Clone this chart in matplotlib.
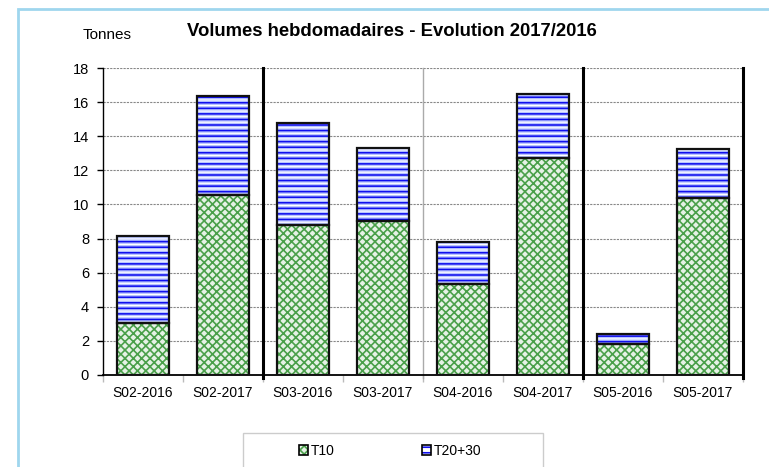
import matplotlib
matplotlib.use("Agg")
import matplotlib.pyplot as plt
from matplotlib.patches import Rectangle, Patch
import numpy as np

plt.rcParams['font.family'] = ['Liberation Sans', 'DejaVu Sans']
plt.rcParams['hatch.linewidth'] = 1.2

categories = ["S02-2016", "S02-2017", "S03-2016", "S03-2017",
              "S04-2016", "S04-2017", "S05-2016", "S05-2017"]
t10 = [3.03, 10.53, 8.8, 9.03, 5.33, 12.7, 1.82, 10.37]
totals = [8.13, 16.33, 14.8, 13.3, 7.82, 16.47, 2.41, 13.24]
t2030 = [tot - a for tot, a in zip(totals, t10)]
yticks = [0, 2, 4, 6, 8, 10, 12, 14, 16, 18]
thick_separators = [1.5, 5.5, 7.5]
thin_separators = [3.5]

W, H = 769, 467
fig = plt.figure(figsize=(W / 100, H / 100), dpi=100)

# light blue frame
fig.patches.append(Rectangle((18 / W, -0.05), 1.2, 1 - 9 / H + 0.05, transform=fig.transFigure,
                             fill=False, edgecolor='#9fd6ee', linewidth=2, zorder=0))

ax = fig.add_axes([103 / W, 1 - 375 / H, 640 / W, 307 / H])
x = np.arange(len(categories))
bw = 0.66

green = '#4aa04a'
# T10 hatched
ax.bar(x, t10, bw, color='#e6f2e6', edgecolor=green, hatch='xxxx', linewidth=0, zorder=3)
ax.bar(x, t10, bw, color='none', edgecolor='#111111', linewidth=1.6, zorder=4)
# T20+30
ax.bar(x, t2030, bw, bottom=t10, color='white', edgecolor='#b8c4ff', hatch='------', linewidth=0, zorder=3)
ax.bar(x, t2030, bw, bottom=t10, color='none', edgecolor='#1010ee', hatch='---', linewidth=0, zorder=3)
ax.bar(x, t2030, bw, bottom=t10, color='none', edgecolor='#111111', linewidth=1.6, zorder=4)

ax.set_xlim(-0.5, 7.5)
ax.set_ylim(0, 18)
ax.set_yticks(yticks)
ax.set_yticklabels([str(v) for v in yticks], fontsize=10.5)
ax.set_xticks(x)
ax.set_xticklabels(categories, fontsize=10)
ax.set_xticks(np.arange(-0.5, 8.0, 1.0), minor=True)
ax.tick_params(axis='x', which='major', length=0, pad=8)
ax.tick_params(axis='x', which='minor', length=5, color='#bbbbbb', width=1)
ax.tick_params(axis='y', length=4, width=1, color='black', pad=6)

for y in yticks[1:]:
    ax.axhline(y, color='#888888', linewidth=0.8, linestyle=(0, (2, 1)), zorder=1)

for s in ['top', 'right']:
    ax.spines[s].set_visible(False)
ax.spines['left'].set_linewidth(1)
ax.spines['bottom'].set_linewidth(1.3)

for sx in thick_separators:
    ax.plot([sx, sx], [-0.2, 18], color='black', linewidth=2.2, clip_on=False, zorder=5)
for sx in thin_separators:
    ax.plot([sx, sx], [-0.2, 18], color='#aaaaaa', linewidth=1, clip_on=False, zorder=2)

fig.text(107 / W, 1 - 35 / H, "Tonnes", fontsize=11, ha='center', va='center')
fig.text(392 / W, 1 - 31 / H, "Volumes hebdomadaires - Evolution 2017/2016",
         fontsize=13.3, fontweight='bold', ha='center', va='center')

# legend box
fig.patches.append(Rectangle((243 / W, -0.05), 300 / W, (467 - 433) / H + 0.05,
                             transform=fig.transFigure, facecolor='white',
                             edgecolor='#cccccc', linewidth=1, zorder=1))
h1 = (Patch(facecolor='#e6f2e6', edgecolor=green, hatch='xxxx', linewidth=0),
      Patch(facecolor='none', edgecolor='black', linewidth=1.2))
h2 = (Patch(facecolor='white', edgecolor='#1010ee', hatch='---', linewidth=0),
      Patch(facecolor='none', edgecolor='black', linewidth=1.2))
leg = fig.legend([h1, h2], ["T10", "T20+30"], loc='center', bbox_to_anchor=(390 / W, 1 - 451 / H),
                 ncol=2, frameon=False, fontsize=10, handlelength=0.65, handleheight=0.65,
                 handletextpad=0.2, columnspacing=6.3)

fig.savefig("out.png", dpi=100)
